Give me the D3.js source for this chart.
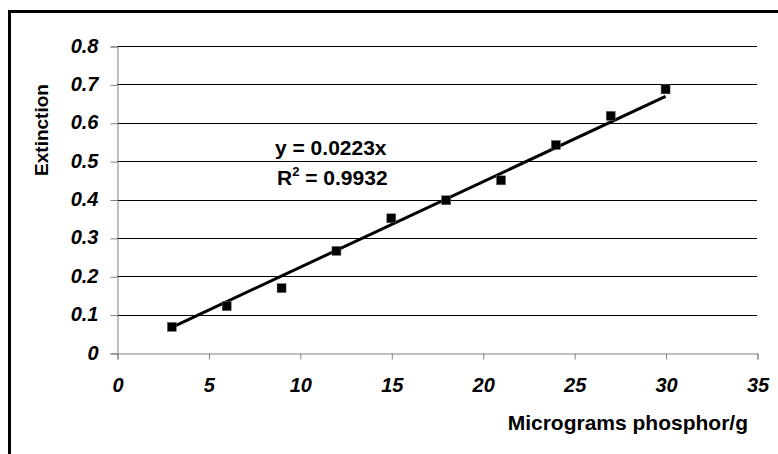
<!DOCTYPE html>
<html lang="en">
<head>
<meta charset="utf-8">
<title>extinction</title>
<script src="https://d3js.org/d3.v7.min.js"></script>
<style>
  body { margin:0; background:#fff; }
  svg { display:block; font-family: "Liberation Sans", Arial, sans-serif; }
  .tick text { font-weight:bold; font-style:italic; font-size:20px; fill:#000; }
  .axis path, .axis line { stroke:#808080; }
  .grid line { stroke:#000; stroke-width:1; }
</style>
</head>
<body>
<div id="chart"></div>
<script>
// data
var micrograms = [3, 6, 9, 12, 15, 18, 21, 24, 27, 30];
var extinction = [0.068, 0.122, 0.169, 0.266, 0.351, 0.398, 0.450, 0.542, 0.618, 0.687];
var slope = 0.0223;
var xTicks = [0, 5, 10, 15, 20, 25, 30, 35];
var yTicks = [0, 0.1, 0.2, 0.3, 0.4, 0.5, 0.6, 0.7, 0.8];
var eqLabel = "y = 0.0223x";
var r2Label = "0.9932";

var w = 778, h = 454;
var plotL = 117, plotR = 757, plotT = 46, plotB = 353;

var svg = d3.select("#chart").append("svg")
  .attr("width", w).attr("height", h);

// outer frame
svg.append("rect")
  .attr("x", 9.5).attr("y", 11.5)
  .attr("width", 800).attr("height", 500)
  .attr("fill", "none").attr("stroke", "#000").attr("stroke-width", 3);

var x = d3.scaleLinear().domain([0, 35]).range([plotL, plotR]);
var y = d3.scaleLinear().domain([0, 0.8]).range([plotB, plotT]);

// gridlines
svg.append("g").attr("class", "grid")
  .selectAll("line")
  .data(yTicks.filter(function(d) { return d > 0; }))
  .enter().append("line")
  .attr("x1", plotL).attr("x2", plotR)
  .attr("y1", function(d) { return Math.round(y(d)) + 0.5; })
  .attr("y2", function(d) { return Math.round(y(d)) + 0.5; });

// y axis
var yAxis = d3.axisLeft(y).tickValues(yTicks).tickSizeOuter(0).tickSize(7).tickPadding(12)
  .tickFormat(function(d) { return d === 0 ? "0" : d3.format(".1f")(d); });
svg.append("g").attr("class", "axis")
  .attr("transform", "translate(" + (plotL + 0.5) + ",0.5)")
  .call(yAxis)
  .selectAll("text").attr("dy", "0.28em");

// x axis
var xAxis = d3.axisBottom(x).tickValues(xTicks).tickSizeOuter(0).tickSize(6).tickPadding(18);
svg.append("g").attr("class", "axis")
  .attr("transform", "translate(0.5," + (plotB + 0.5) + ")")
  .call(xAxis);

// trendline
svg.append("line")
  .attr("x1", x(d3.min(micrograms))).attr("y1", y(slope * d3.min(micrograms)))
  .attr("x2", x(d3.max(micrograms))).attr("y2", y(slope * d3.max(micrograms)))
  .attr("stroke", "#000").attr("stroke-width", 3);

// markers
svg.selectAll("rect.pt")
  .data(micrograms)
  .enter().append("rect")
  .attr("class", "pt")
  .attr("x", function(d) { return x(d) - 4.5; })
  .attr("y", function(d, i) { return y(extinction[i]) - 4.5; })
  .attr("width", 9).attr("height", 9)
  .attr("fill", "#000").attr("stroke", "#666").attr("stroke-width", 0.5);

// equation
svg.append("text")
  .attr("x", 275).attr("y", 155)
  .style("font-weight", "bold").style("font-size", "21px")
  .text(eqLabel);
var r2 = svg.append("text")
  .attr("x", 277).attr("y", 185)
  .style("font-weight", "bold").style("font-size", "21px");
r2.append("tspan").text("R");
r2.append("tspan").attr("dy", -9).style("font-size", "13px").text("2");
r2.append("tspan").attr("dy", 9).text(" = " + r2Label);

// axis titles
svg.append("text")
  .attr("x", 748).attr("y", 430)
  .attr("text-anchor", "end")
  .style("font-weight", "bold").style("font-size", "21px")
  .text("Micrograms phosphor/g");

svg.append("text")
  .attr("transform", "translate(48,130) rotate(-90)")
  .attr("text-anchor", "middle")
  .style("font-weight", "bold").style("font-size", "19px")
  .text("Extinction");
</script>
</body>
</html>
